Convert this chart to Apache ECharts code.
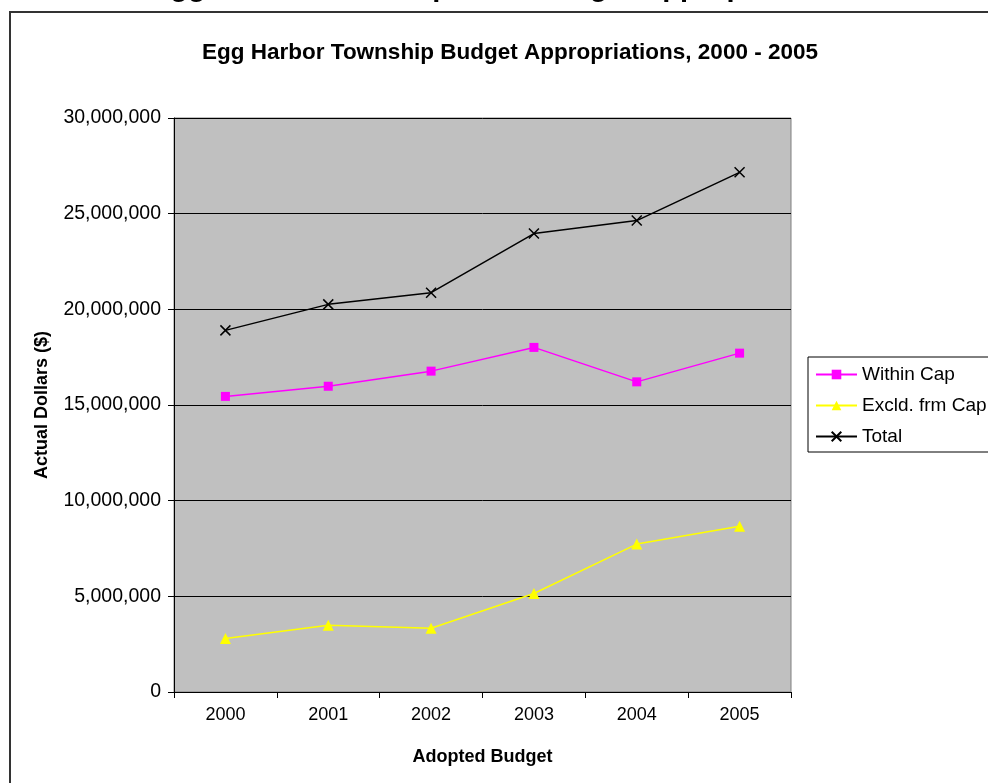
<!DOCTYPE html>
<html>
<head>
<meta charset="utf-8">
<title>Egg Harbor Township Budget Appropriations, 2000 - 2005</title>
<script src="https://cdn.jsdelivr.net/npm/echarts@6/dist/echarts.min.js"></script>
<style>
  html, body { margin: 0; padding: 0; background: #ffffff; }
  #chart { width: 988px; height: 783px; }
</style>
</head>
<body>
<div id="chart"></div>
<script>
// Budget years (adopted budget)
const years = ['2000', '2001', '2002', '2003', '2004', '2005'];

// Appropriations in dollars
const withinCap = [15450000, 15980000, 16770000, 18010000, 16210000, 17710000];
const excludedFromCap = [2790000, 3490000, 3330000, 5150000, 7730000, 8660000];
const totalAppropriations = [18900000, 20260000, 20870000, 23960000, 24640000, 27160000];

// Value axis range
const yMin = 0;
const yMax = 30000000;
const yStep = 5000000;

const FONT = '"Liberation Sans", Arial, sans-serif';

const crossSymbol = 'path://M0,0L10,10M10,0L0,10';

const chart = echarts.init(document.getElementById('chart'), null, { renderer: 'canvas' });

chart.setOption({
  animation: false,
  backgroundColor: '#ffffff',
  textStyle: { fontFamily: FONT },
  graphic: [
    {
      type: 'rect',
      silent: true,
      z: -10,
      shape: { x: 10, y: 12, width: 1000, height: 800 },
      style: { fill: 'none', stroke: '#333333', lineWidth: 2 }
    },
    {
      type: 'text',
      silent: true,
      x: 500,
      y: -12.5,
      style: {
        text: 'Egg Harbor Township Total Budget Appropriations',
        font: 'bold 29px ' + FONT,
        fill: '#000000',
        align: 'center',
        verticalAlign: 'middle'
      }
    }
  ],
  title: {
    text: 'Egg Harbor Township Budget Appropriations, 2000 - 2005',
    left: 505,
    textAlign: 'center',
    top: 36,
    textStyle: { fontFamily: FONT, fontSize: 22.5, fontWeight: 'bold', color: '#000000' }
  },
  legend: {
    orient: 'vertical',
    left: 808,
    top: 357,
    padding: [8, 40, 6, 7],
    itemGap: 12,
    itemWidth: 41,
    itemHeight: 12,
    backgroundColor: '#ffffff',
    borderColor: '#000000',
    borderWidth: 1,
    textStyle: { fontFamily: FONT, fontSize: 19, color: '#000000', padding: [0, 0, 0, 0] },
    data: ['Within Cap', 'Excld. frm Cap', 'Total']
  },
  grid: {
    left: 174,
    right: 197,
    top: 118,
    bottom: 91,
    show: true,
    backgroundColor: '#C0C0C0',
    borderColor: '#808080',
    borderWidth: 1
  },
  xAxis: {
    type: 'category',
    data: years,
    boundaryGap: true,
    name: 'Adopted Budget',
    nameLocation: 'middle',
    nameGap: 56,
    nameTextStyle: { fontFamily: FONT, fontSize: 18, fontWeight: 'bold', color: '#000000' },
    axisLine: { lineStyle: { color: '#000000', width: 1 } },
    axisTick: { show: true, alignWithLabel: false, length: 6, lineStyle: { color: '#000000' } },
    axisLabel: { fontFamily: FONT, fontSize: 18, color: '#000000', margin: 14 },
    splitLine: { show: false }
  },
  yAxis: {
    type: 'value',
    min: yMin,
    max: yMax,
    interval: yStep,
    name: 'Actual Dollars ($)',
    nameLocation: 'middle',
    nameGap: 123,
    nameRotate: 90,
    nameTextStyle: { fontFamily: FONT, fontSize: 18, fontWeight: 'bold', color: '#000000' },
    axisLine: { show: true, lineStyle: { color: '#000000', width: 1 } },
    axisTick: { show: true, length: 6, lineStyle: { color: '#000000' } },
    axisLabel: {
      fontFamily: FONT,
      fontSize: 19.5,
      color: '#000000',
      margin: 13,
      formatter: v => Number(v).toLocaleString('en-US')
    },
    splitLine: { show: true, lineStyle: { color: '#000000', width: 1 } }
  },
  series: [
    {
      name: 'Within Cap',
      type: 'line',
      data: withinCap,
      symbol: 'rect',
      symbolSize: 9,
      lineStyle: { color: '#FF00FF', width: 1.5 },
      itemStyle: { color: '#FF00FF' }
    },
    {
      name: 'Excld. frm Cap',
      type: 'line',
      data: excludedFromCap,
      symbol: 'triangle',
      symbolSize: 11,
      lineStyle: { color: '#FFFF00', width: 1.5 },
      itemStyle: { color: '#FFFF00' }
    },
    {
      name: 'Total',
      type: 'line',
      data: totalAppropriations,
      symbol: crossSymbol,
      symbolSize: 10,
      lineStyle: { color: '#000000', width: 1.5 },
      itemStyle: { color: 'none', borderColor: '#000000', borderWidth: 1.5 }
    }
  ]
});
</script>
</body>
</html>
